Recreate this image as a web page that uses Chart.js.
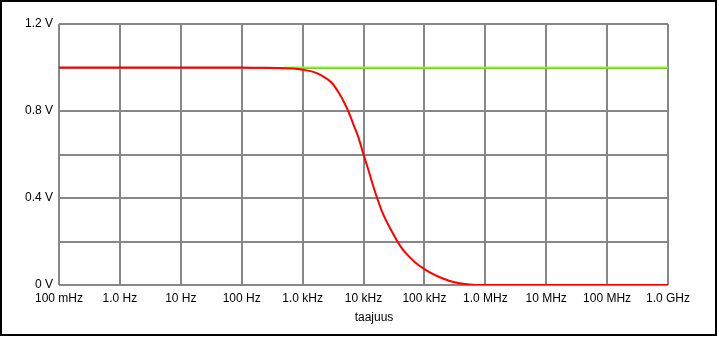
<!DOCTYPE html>
<html>
<head>
<meta charset="utf-8">
<script src="https://cdn.jsdelivr.net/npm/chart.js@4"></script>
<style>
  html, body { margin: 0; padding: 0; background: #fff; }
  #wrap { position: relative; width: 719px; height: 338px; }
  #frame {
    position: absolute; left: 0; top: 0;
    width: 713px; height: 332px;
    border: 2px solid #000;
    pointer-events: none;
  }
  canvas { position: absolute; left: 0; top: 0; }
</style>
</head>
<body>
<div id="wrap">
  <canvas id="chart" width="719" height="338"></canvas>
  <div id="frame"></div>
</div>
<script>
// ============================
// data
const freqs = [0.1, 1, 10, 100, 200, 400, 700, 1000, 1500, 2000, 3000, 4000, 5000, 6000,
  7000, 8000, 10000, 12000, 15000, 20000, 30000, 40000, 50000, 70000, 100000, 150000,
  200000, 300000, 500000, 1e6, 1e7, 1e8, 1e9];
const outVolts = [1, 1, 1, 1, 0.999, 0.998, 0.995, 0.99, 0.98, 0.965, 0.93, 0.88, 0.83, 0.78,
  0.73, 0.69, 0.6, 0.53, 0.44, 0.34, 0.24, 0.18, 0.145, 0.105, 0.073, 0.045,
  0.03, 0.014, 0.004, 0, 0, 0, 0];

// input level; left of ~500 Hz it lies hidden under the output curve
const inFreqs = [500, 1e9];
const inVolts = [1, 1];

const decadeTicks = [0.1, 1, 10, 100, 1e3, 1e4, 1e5, 1e6, 1e7, 1e8, 1e9];
const decadeLabels = ["100 mHz", "1.0 Hz", "10 Hz", "100 Hz", "1.0 kHz", "10 kHz",
  "100 kHz", "1.0 MHz", "10 MHz", "100 MHz", "1.0 GHz"];

const voltLabels = { "0": "0 V", "0.4": "0.4 V", "0.8": "0.8 V", "1.2": "1.2 V" };
const xTitle = "taajuus";

const FONT = "'Liberation Sans', Arial, sans-serif";
const GRID = "#878787";

// ============================
const titlePlugin = {
  id: "xTitle",
  afterDraw(chart) {
    const ctx = chart.ctx;
    ctx.save();
    ctx.font = "12px " + FONT;
    ctx.fillStyle = "#000";
    ctx.textAlign = "center";
    ctx.textBaseline = "middle";
    ctx.fillText(xTitle, 374, 318);
    ctx.restore();
  }
};

new Chart(document.getElementById("chart"), {
  type: "line",
  data: {
    datasets: [
      {
        data: freqs.map((f, i) => ({ x: f, y: outVolts[i] })),
        borderColor: "#ff0000",
        borderWidth: 2,
        pointRadius: 0,
        cubicInterpolationMode: "monotone",
        order: 0
      },
      {
        data: inFreqs.map((f, i) => ({ x: f, y: inVolts[i] })),
        borderColor: "#84ff00",
        borderWidth: 2,
        pointRadius: 0,
        order: 1
      }
    ]
  },
  options: {
    responsive: false,
    animation: false,
    layout: { padding: { left: 0, right: 51, top: 24, bottom: 0 } },
    plugins: { legend: { display: false }, tooltip: { enabled: false } },
    scales: {
      x: {
        type: "logarithmic",
        min: 0.1,
        max: 1e9,
        afterBuildTicks(scale) {
          scale.ticks = decadeTicks.map(v => ({ value: v }));
        },
        afterFit(scale) { scale.height = 53; },
        grid: { color: GRID, lineWidth: 2, drawTicks: false },
        border: { display: false },
        ticks: {
          autoSkip: false,
          maxRotation: 0,
          padding: 6,
          color: "#000",
          font: { family: FONT, size: 12 },
          callback: (v, i) => decadeLabels[i]
        }
      },
      y: {
        min: 0,
        max: 1.2,
        afterFit(scale) { scale.width = 59; },
        grid: { color: GRID, lineWidth: 2, drawTicks: false },
        border: { display: false },
        ticks: {
          stepSize: 0.2,
          padding: 6,
          color: "#000",
          font: { family: FONT, size: 12 },
          callback: v => voltLabels[String(Math.round(v * 10) / 10)] || ""
        }
      }
    }
  },
  plugins: [titlePlugin]
});
</script>
</body>
</html>
